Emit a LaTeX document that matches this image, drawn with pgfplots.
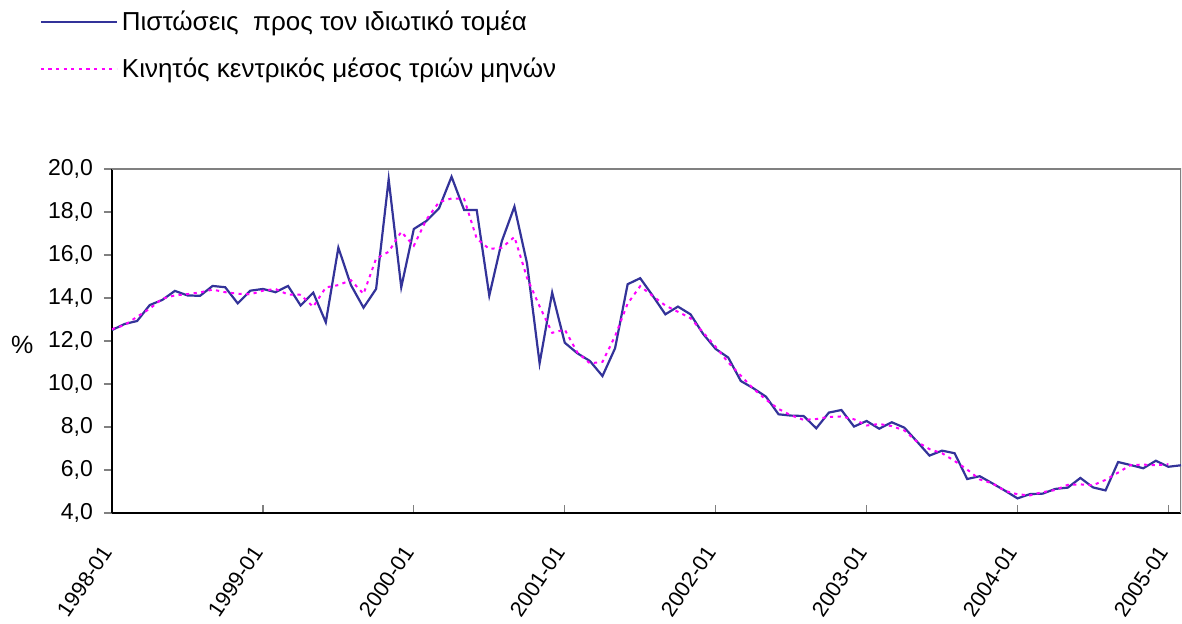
\documentclass[border=0pt]{standalone}
\usepackage{pgfplots}
\pgfplotsset{compat=1.18}
\usepackage{fontspec}
\setmainfont{Liberation Sans}
\definecolor{cblue}{RGB}{51,51,153}
\definecolor{cmag}{RGB}{255,0,255}
\begin{document}
\begin{tikzpicture}
\path[use as bounding box] (0,0) rectangle (591pt,312pt);
\begin{axis}[
  at={(56pt,55.5pt)}, anchor=south west,
  scale only axis, width=534.5pt, height=172pt,
  xmin=0, xmax=85, ymin=4, ymax=20,
  ytick={4,6,...,20},
  xtick={0,12,24,36,48,60,72,84},
  xticklabels={1998-01,1999-01,2000-01,2001-01,2002-01,2003-01,2004-01,2005-01},
  xtick pos=bottom, ytick pos=left,
  tick align=inside,
  major tick length=4pt,
  x tick style={gray, line width=0.6pt},
  y tick style={gray, line width=0.6pt, xshift=-4pt},
  axis line style={line width=0.8pt},
  separate axis lines,
  every outer x axis line/.append style={black},
  every outer y axis line/.append style={black},
  axis x line*=bottom, axis y line*=left,
  /pgf/number format/assume math mode=true,
  yticklabel style={font=\fontsize{11.5}{13}\selectfont, /pgf/number format/.cd, fixed, fixed zerofill, precision=1, use comma, /tikz/.cd, anchor=east, xshift=-6pt},
  xticklabel style={font=\fontsize{10.8}{12}\selectfont, yshift=-15pt, xshift=-0.5pt, rotate=56, anchor=east},
  ylabel={\%},
  every axis y label/.style={at={(axis description cs:-0.084,0.488)}, anchor=center, font=\fontsize{12.5}{14}\selectfont},
  legend style={at={(axis description cs:-0.068,1.466)}, anchor=north west, draw=none, fill=none,
    font=\fontsize{13}{15}\selectfont, row sep=10pt, inner sep=0pt, nodes={inner xsep=2pt, inner ysep=1pt}},
  legend cell align=left,
  legend image code/.code={\draw[#1] (0pt,0pt) -- (38pt,0pt);},
]
\draw[gray, line width=0.8pt] (rel axis cs:0,1) -- (rel axis cs:1,1) -- (rel axis cs:1,0);
\addplot[cblue, line width=1.1pt] coordinates {
(0,12.51)(1,12.79)(2,12.93)(3,13.67)(4,13.91)(5,14.33)(6,14.12)(7,14.10)(8,14.56)(9,14.50)
(10,13.75)(11,14.34)(12,14.42)(13,14.27)(14,14.56)(15,13.65)(16,14.25)(17,12.87)(18,16.34)(19,14.60)
(20,13.55)(21,14.42)(22,19.52)(23,14.50)(24,17.21)(25,17.58)(26,18.17)(27,19.64)(28,18.09)(29,18.09)
(30,14.11)(31,16.65)(32,18.25)(33,15.61)(34,10.96)(35,14.25)(36,11.92)(37,11.43)(38,11.07)(39,10.37)
(40,11.66)(41,14.64)(42,14.92)(43,14.10)(44,13.24)(45,13.60)(46,13.24)(47,12.33)(48,11.63)(49,11.23)
(50,10.14)(51,9.80)(52,9.41)(53,8.59)(54,8.53)(55,8.51)(56,7.94)(57,8.67)(58,8.79)(59,8.02)
(60,8.28)(61,7.92)(62,8.22)(63,7.97)(64,7.33)(65,6.67)(66,6.90)(67,6.78)(68,5.58)(69,5.71)
(70,5.38)(71,5.04)(72,4.68)(73,4.88)(74,4.90)(75,5.12)(76,5.18)(77,5.63)(78,5.19)(79,5.05)
(80,6.37)(81,6.23)(82,6.08)(83,6.43)(84,6.15)(85,6.22)
};
\addlegendentry{Πιστώσεις\ \ προς τον ιδιωτικό τομέα}
\addplot[cmag, line width=1pt, dash pattern=on 1.6pt off 2.2pt] coordinates {
(0,12.55)(1,12.74)(2,13.13)(3,13.50)(4,13.97)(5,14.12)(6,14.18)(7,14.26)(8,14.39)(9,14.27)
(10,14.20)(11,14.17)(12,14.34)(13,14.42)(14,14.16)(15,14.15)(16,13.59)(17,14.49)(18,14.60)(19,14.83)
(20,14.19)(21,15.83)(22,16.15)(23,17.08)(24,16.43)(25,17.65)(26,18.46)(27,18.63)(28,18.61)(29,16.76)
(30,16.28)(31,16.34)(32,16.84)(33,14.94)(34,13.61)(35,12.38)(36,12.53)(37,11.47)(38,10.96)(39,11.03)
(40,12.22)(41,13.74)(42,14.55)(43,14.09)(44,13.65)(45,13.36)(46,13.06)(47,12.40)(48,11.73)(49,11.00)
(50,10.39)(51,9.78)(52,9.27)(53,8.84)(54,8.54)(55,8.33)(56,8.37)(57,8.47)(58,8.49)(59,8.36)
(60,8.07)(61,8.14)(62,8.04)(63,7.84)(64,7.32)(65,6.97)(66,6.78)(67,6.42)(68,6.02)(69,5.56)
(70,5.38)(71,5.03)(72,4.87)(73,4.82)(74,4.97)(75,5.07)(76,5.31)(77,5.33)(78,5.29)(79,5.54)
(80,5.88)(81,6.23)(82,6.25)(83,6.22)(84,6.27)
};
\addlegendentry{Κινητός κεντρικός μέσος τριών μηνών}
\end{axis}
\end{tikzpicture}
\end{document}
